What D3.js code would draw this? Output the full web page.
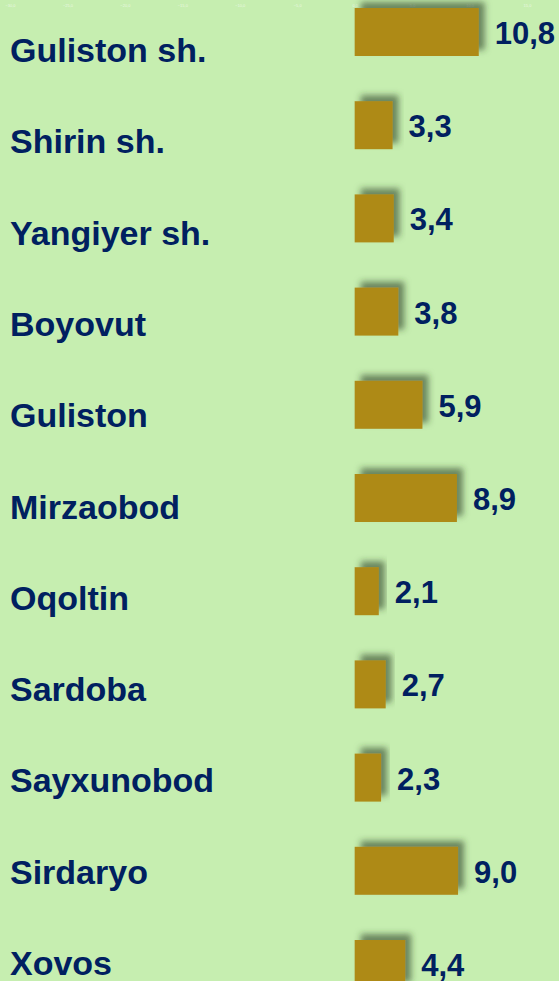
<!DOCTYPE html>
<html>
<head>
<meta charset="utf-8">
<script src="https://cdn.jsdelivr.net/npm/d3@7"></script>
<style>
  html, body { margin: 0; padding: 0; background: #c6eeb0; }
  svg { display: block; }
</style>
</head>
<body>
<svg id="bar-chart"></svg>
<script>
// districts and their values
const districts = ['Guliston sh.', 'Shirin sh.', 'Yangiyer sh.', 'Boyovut', 'Guliston',
    'Mirzaobod', 'Oqoltin', 'Sardoba', 'Sayxunobod', 'Sirdaryo', 'Xovos'];
const values = [10.8, 3.3, 3.4, 3.8, 5.9, 8.9, 2.1, 2.7, 2.3, 9.0, 4.4];
const xTicks = [-30, -25, -20, -15, -10, -5, 0, 5, 10, 15];

const svgWidth = 559, svgHeight = 981;

const data = districts.map((d, i) => ({ name: d, value: values[i] }));

const svg = d3.select('#bar-chart')
    .attr("width", svgWidth)
    .attr("height", svgHeight);

// shadow for the bars
const defs = svg.append("defs");
defs.append("filter")
    .attr("id", "shadow")
    .attr("x", "-20%").attr("y", "-40%")
    .attr("width", "150%").attr("height", "180%")
    .append("feDropShadow")
    .attr("dx", 6)
    .attr("dy", -6)
    .attr("stdDeviation", 3)
    .attr("flood-color", "#2f3f25")
    .attr("flood-opacity", 0.6);

const x = d3.scaleLinear()
    .domain([-30, 15])
    .range([10, 527]);

const y = d3.scaleBand()
    .domain(districts)
    .range([-37.2, 1033.2])
    .padding(0.485);

// category labels sit on their own grid, a bit lower than the bars
const yLabel = d3.scalePoint()
    .domain(districts)
    .range([62, 975]);

const comma = d3.formatLocale({ decimal: ",", thousands: " ", grouping: [3], currency: ["", ""] }).format(".1f");

// faint axis labels along the top
const axis = svg.append("g")
    .attr("transform", "translate(0,7)")
    .call(d3.axisTop(x).tickValues(xTicks).tickSize(0).tickFormat(comma));
axis.select(".domain").remove();
axis.selectAll("text")
    .attr("y", 0)
    .attr("dy", 0)
    .attr("fill", "#f4fbef")
    .attr("fill-opacity", 0.8)
    .style("font-family", "Arial, 'Liberation Sans', sans-serif")
    .style("font-size", "4px");

svg.append("g")
    .selectAll("rect")
    .data(data)
    .join("rect")
    .attr("x", x(0))
    .attr("y", d => y(d.name))
    .attr("width", d => x(d.value) - x(0))
    .attr("height", y.bandwidth())
    .attr("fill", "#ae8a16")
    .attr("filter", "url(#shadow)");

svg.append("g")
    .selectAll("text")
    .data(data)
    .join("text")
    .attr("x", d => x(d.value) + 16)
    .attr("y", d => y(d.name) + y.bandwidth() / 2 + 12)
    .attr("fill", "#002060")
    .style("font-family", "Arial, 'Liberation Sans', sans-serif")
    .style("font-weight", "bold")
    .style("font-size", "31px")
    .text(d => comma(d.value));

svg.append("g")
    .selectAll("text")
    .data(data)
    .join("text")
    .attr("x", 10)
    .attr("y", d => yLabel(d.name))
    .attr("fill", "#002060")
    .style("font-family", "Arial, 'Liberation Sans', sans-serif")
    .style("font-weight", "bold")
    .style("font-size", "34px")
    .text(d => d.name);
</script>
</body>
</html>
